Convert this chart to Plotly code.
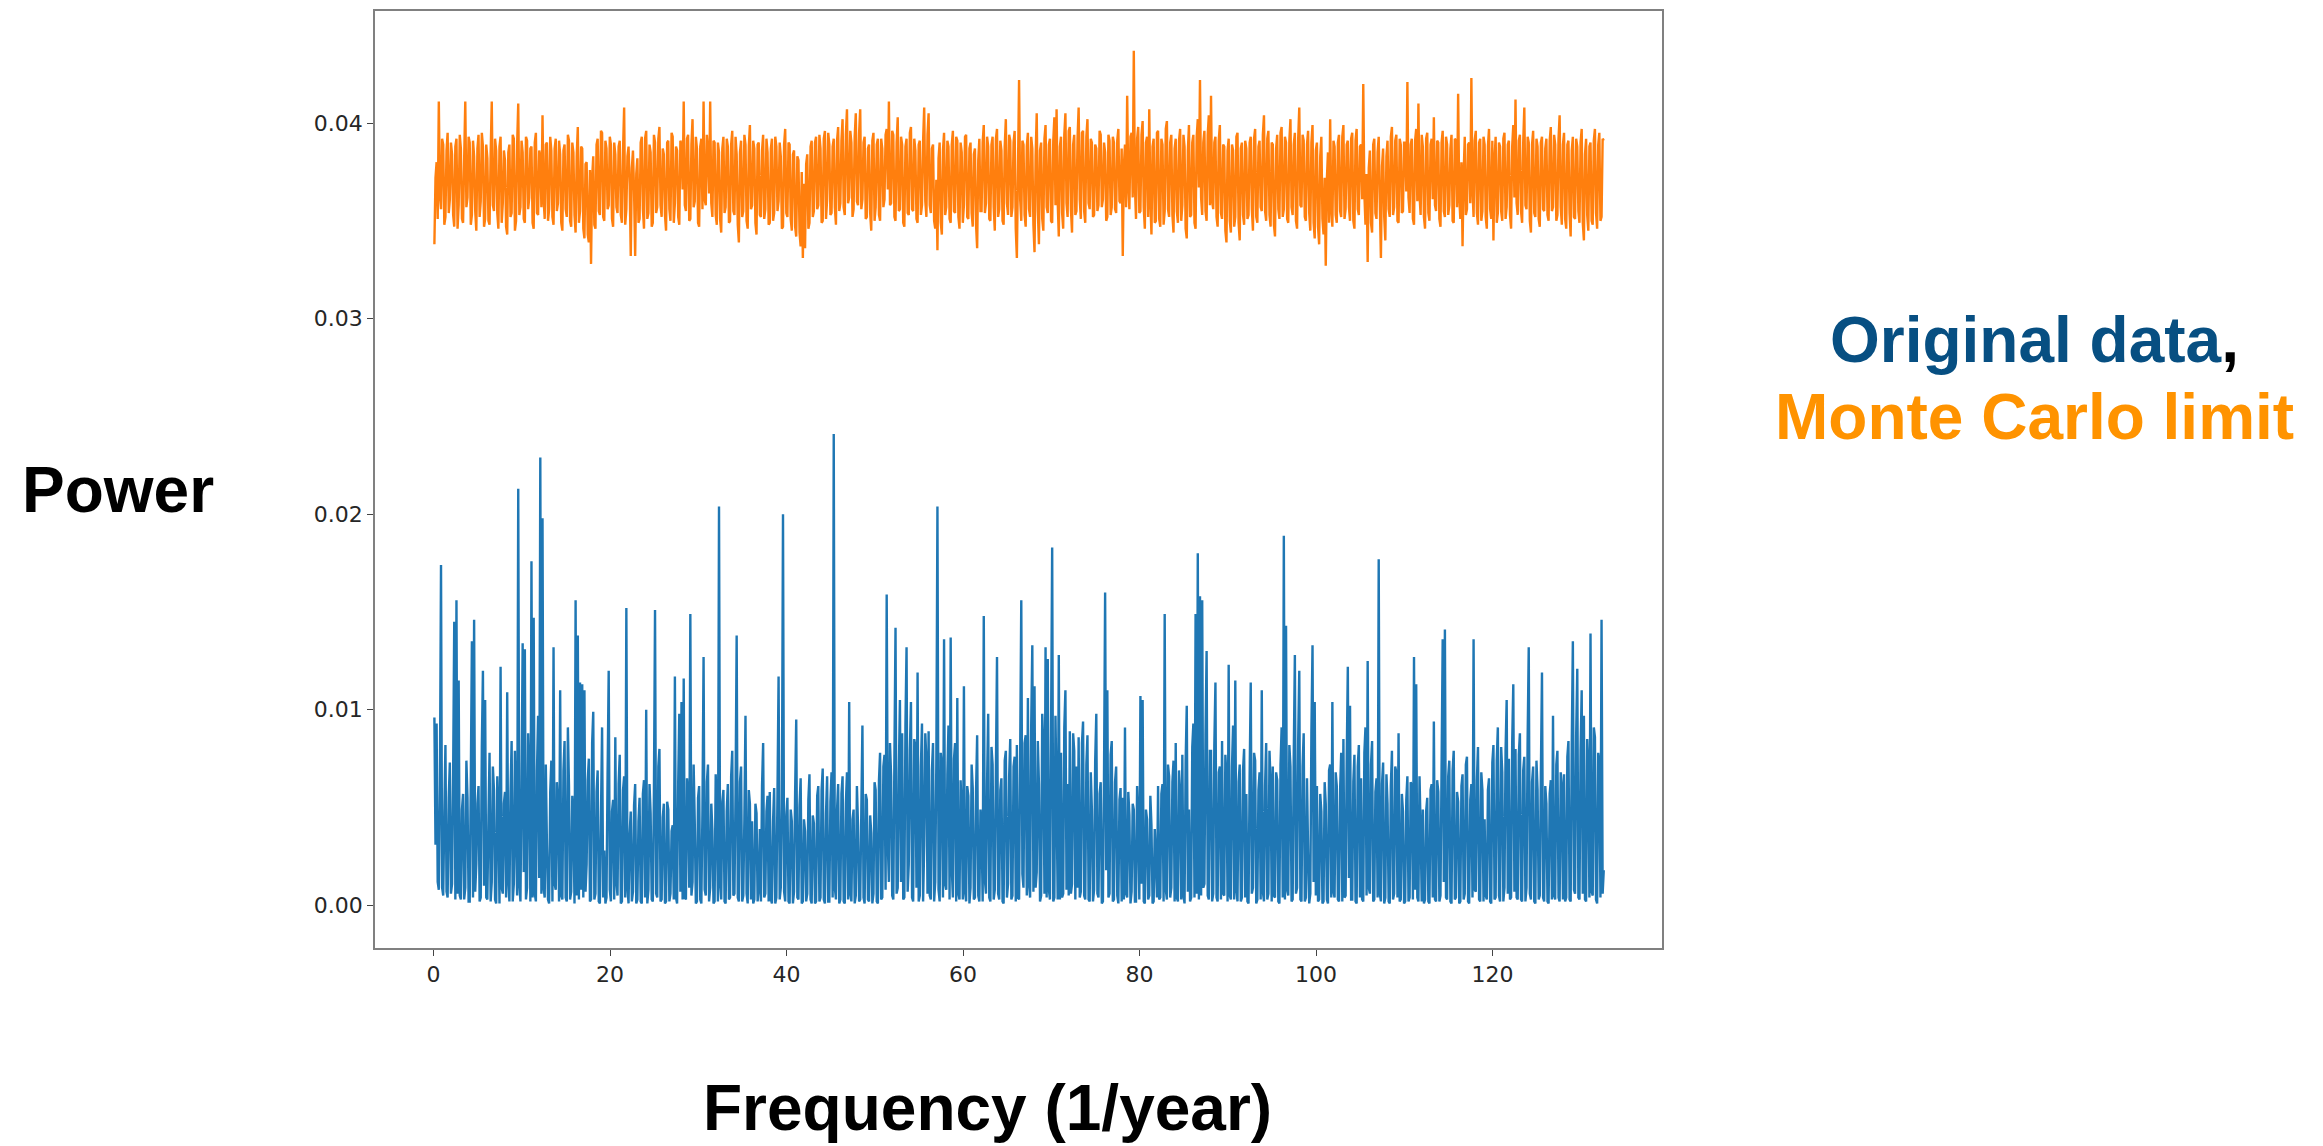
import plotly.graph_objects as go

# ---------------- data ----------------
# The spectrum is read in two interleaved passes: pass "a" at
# freq_start + k*freq_step, pass "b" half a step later.
freq_start = 0.1      # first frequency (1/year)
freq_step = 0.25      # spacing within one pass

original_power_a = [
    0.0096, 0.0093, 0.0008, 0.0174, 0.0005, 0.0082, 0.0004, 0.0073,
    0.0011, 0.0145, 0.0156, 0.0115, 0.0003, 0.0057, 0.0009, 0.0055,
    0.0002, 0.0135, 0.0146, 0.0021, 0.0061, 0.0004, 0.0120, 0.0105,
    0.0003, 0.0078, 0.0012, 0.0059, 0.0001, 0.0047, 0.0122, 0.0006,
    0.0058, 0.0109, 0.0002, 0.0084, 0.0011, 0.0038, 0.0213, 0.0002,
    0.0134, 0.0131, 0.0009, 0.0066, 0.0176, 0.0147, 0.0002, 0.0097,
    0.0229, 0.0198, 0.0004, 0.0031, 0.0001, 0.0074, 0.0132, 0.0008,
    0.0052, 0.0110, 0.0003, 0.0084, 0.0002, 0.0061, 0.0007, 0.0045,
    0.0156, 0.0138, 0.0114, 0.0113, 0.0110, 0.0021, 0.0075, 0.0003,
    0.0099, 0.0006, 0.0069, 0.0001, 0.0091, 0.0028, 0.0004, 0.0120,
    0.0002, 0.0054, 0.0086, 0.0005, 0.0077, 0.0002, 0.0066, 0.0152,
    0.0001, 0.0048, 0.0007, 0.0062, 0.0003, 0.0055, 0.0001, 0.0064,
    0.0100, 0.0008, 0.0047, 0.0002, 0.0151, 0.0004, 0.0080, 0.0003,
    0.0052, 0.0002, 0.0049, 0.0006, 0.0041, 0.0117, 0.0001, 0.0098,
    0.0104, 0.0116, 0.0003, 0.0056, 0.0149, 0.0012, 0.0043, 0.0002,
    0.0061, 0.0001, 0.0127, 0.0005, 0.0072, 0.0009, 0.0038, 0.0002,
    0.0046, 0.0204, 0.0003, 0.0059, 0.0001, 0.0062, 0.0004, 0.0079,
    0.0006, 0.0138, 0.0002, 0.0071, 0.0005, 0.0097, 0.0001, 0.0052,
    0.0043, 0.0003, 0.0047, 0.0008, 0.0002, 0.0083, 0.0006, 0.0056,
    0.0058, 0.0001, 0.0060, 0.0004, 0.0117, 0.0009, 0.0200, 0.0002,
    0.0055, 0.0001, 0.0043, 0.0007, 0.0095, 0.0003, 0.0065, 0.0002,
    0.0038, 0.0006, 0.0067, 0.0001, 0.0042, 0.0002, 0.0061, 0.0004,
    0.0070, 0.0001, 0.0066, 0.0002, 0.0068, 0.0241, 0.0003, 0.0062,
    0.0003, 0.0066, 0.0001, 0.0068, 0.0104, 0.0002, 0.0049, 0.0005,
    0.0041, 0.0003, 0.0092, 0.0001, 0.0054, 0.0002, 0.0037, 0.0006,
    0.0059, 0.0001, 0.0078, 0.0004, 0.0077, 0.0159, 0.0012, 0.0066,
    0.0003, 0.0142, 0.0009, 0.0105, 0.0088, 0.0004, 0.0132, 0.0021,
    0.0104, 0.0002, 0.0081, 0.0119, 0.0005, 0.0093, 0.0031, 0.0074,
    0.0089, 0.0003, 0.0083, 0.0012, 0.0204, 0.0002, 0.0071, 0.0136,
    0.0008, 0.0092, 0.0137, 0.0004, 0.0083, 0.0106, 0.0003, 0.0048,
    0.0112, 0.0002, 0.0056, 0.0009, 0.0060, 0.0004, 0.0087, 0.0002,
    0.0039, 0.0148, 0.0006, 0.0098, 0.0002, 0.0072, 0.0008, 0.0127,
    0.0003, 0.0065, 0.0001, 0.0079, 0.0011, 0.0085, 0.0005, 0.0076,
    0.0082, 0.0003, 0.0156, 0.0009, 0.0087, 0.0106, 0.0004, 0.0133,
    0.0112, 0.0017, 0.0062, 0.0005, 0.0081, 0.0132, 0.0126, 0.0003,
    0.0183, 0.0004, 0.0054, 0.0128, 0.0078, 0.0006, 0.0110, 0.0062,
    0.0089, 0.0011, 0.0079, 0.0071, 0.0086, 0.0007, 0.0094, 0.0003,
    0.0087, 0.0002, 0.0049, 0.0008, 0.0098, 0.0004, 0.0063, 0.0002,
    0.0160, 0.0110, 0.0006, 0.0084, 0.0003, 0.0071, 0.0001, 0.0060,
    0.0055, 0.0091, 0.0004, 0.0046, 0.0007, 0.0049, 0.0002, 0.0043,
    0.0107, 0.0105, 0.0001, 0.0044, 0.0005, 0.0041, 0.0002, 0.0024,
    0.0061, 0.0004, 0.0062, 0.0149, 0.0003, 0.0066, 0.0009, 0.0074,
    0.0083, 0.0002, 0.0057, 0.0077, 0.0001, 0.0102, 0.0049, 0.0004,
    0.0093, 0.0149, 0.0180, 0.0158, 0.0156, 0.0011, 0.0130, 0.0003,
    0.0079, 0.0006, 0.0114, 0.0002, 0.0071, 0.0084, 0.0005, 0.0066,
    0.0123, 0.0003, 0.0092, 0.0115, 0.0002, 0.0072, 0.0004, 0.0080,
    0.0057, 0.0001, 0.0114, 0.0009, 0.0074, 0.0003, 0.0068, 0.0110,
    0.0002, 0.0083, 0.0006, 0.0063, 0.0071, 0.0004, 0.0064, 0.0001,
    0.0091, 0.0189, 0.0143, 0.0005, 0.0071, 0.0003, 0.0128, 0.0009,
    0.0120, 0.0002, 0.0088, 0.0004, 0.0027, 0.0006, 0.0133, 0.0104,
    0.0061, 0.0003, 0.0048, 0.0002, 0.0052, 0.0001, 0.0072, 0.0104,
    0.0004, 0.0061, 0.0002, 0.0078, 0.0085, 0.0005, 0.0122, 0.0102,
    0.0003, 0.0077, 0.0001, 0.0082, 0.0065, 0.0002, 0.0091, 0.0125,
    0.0006, 0.0084, 0.0003, 0.0065, 0.0177, 0.0002, 0.0073, 0.0004,
    0.0052, 0.0001, 0.0079, 0.0006, 0.0068, 0.0088, 0.0003, 0.0048,
    0.0002, 0.0066, 0.0004, 0.0061, 0.0127, 0.0113, 0.0002, 0.0039,
    0.0049, 0.0003, 0.0055, 0.0001, 0.0062, 0.0094, 0.0002, 0.0058,
    0.0005, 0.0136, 0.0141, 0.0003, 0.0074, 0.0001, 0.0079, 0.0004,
    0.0053, 0.0002, 0.0067, 0.0006, 0.0076, 0.0001, 0.0062, 0.0136,
    0.0007, 0.0081, 0.0002, 0.0059, 0.0044, 0.0003, 0.0065, 0.0001,
    0.0082, 0.0004, 0.0091, 0.0002, 0.0068, 0.0009, 0.0105, 0.0075,
    0.0004, 0.0113, 0.0080, 0.0003, 0.0088, 0.0002, 0.0076, 0.0009,
    0.0132, 0.0003, 0.0071, 0.0001, 0.0059, 0.0005, 0.0119, 0.0002,
    0.0052, 0.0001, 0.0064, 0.0097, 0.0003, 0.0079, 0.0002, 0.0061,
    0.0067, 0.0004, 0.0084, 0.0002, 0.0135, 0.0006, 0.0121, 0.0003,
    0.0110, 0.0097, 0.0002, 0.0069, 0.0139, 0.0005, 0.0086, 0.0001,
    0.0073, 0.0146, 0.0018,
]

original_power_b = [
    0.0031, 0.0012, 0.0062, 0.0009, 0.0047, 0.0007, 0.0055, 0.0006,
    0.0068, 0.0003, 0.0006, 0.0005, 0.0049, 0.0003, 0.0074, 0.0002,
    0.0063, 0.0004, 0.0007, 0.0052, 0.0002, 0.0081, 0.0010, 0.0004,
    0.0044, 0.0002, 0.0071, 0.0003, 0.0066, 0.0001, 0.0009, 0.0052,
    0.0004, 0.0013, 0.0057, 0.0002, 0.0079, 0.0005, 0.0011, 0.0062,
    0.0017, 0.0003, 0.0088, 0.0002, 0.0004, 0.0006, 0.0069, 0.0014,
    0.0006, 0.0009, 0.0072, 0.0003, 0.0058, 0.0002, 0.0011, 0.0063,
    0.0002, 0.0005, 0.0069, 0.0004, 0.0091, 0.0003, 0.0056, 0.0001,
    0.0005, 0.0003, 0.0008, 0.0004, 0.0007, 0.0064, 0.0002, 0.0083,
    0.0003, 0.0058, 0.0002, 0.0046, 0.0004, 0.0001, 0.0067, 0.0008,
    0.0048, 0.0003, 0.0012, 0.0062, 0.0001, 0.0059, 0.0004, 0.0009,
    0.0037, 0.0002, 0.0051, 0.0001, 0.0043, 0.0002, 0.0057, 0.0004,
    0.0001, 0.0062, 0.0003, 0.0058, 0.0006, 0.0071, 0.0002, 0.0045,
    0.0001, 0.0053, 0.0002, 0.0038, 0.0003, 0.0004, 0.0062, 0.0007,
    0.0003, 0.0004, 0.0065, 0.0009, 0.0005, 0.0072, 0.0001, 0.0055,
    0.0003, 0.0049, 0.0008, 0.0063, 0.0002, 0.0052, 0.0001, 0.0067,
    0.0002, 0.0011, 0.0053, 0.0002, 0.0048, 0.0003, 0.0066, 0.0005,
    0.0058, 0.0004, 0.0063, 0.0002, 0.0044, 0.0006, 0.0059, 0.0003,
    0.0001, 0.0052, 0.0002, 0.0039, 0.0061, 0.0004, 0.0048, 0.0002,
    0.0003, 0.0043, 0.0001, 0.0057, 0.0003, 0.0051, 0.0007, 0.0046,
    0.0002, 0.0049, 0.0001, 0.0058, 0.0004, 0.0051, 0.0001, 0.0044,
    0.0002, 0.0054, 0.0003, 0.0046, 0.0001, 0.0056, 0.0002, 0.0059,
    0.0003, 0.0047, 0.0002, 0.0053, 0.0004, 0.0009, 0.0049, 0.0001,
    0.0057, 0.0002, 0.0052, 0.0003, 0.0006, 0.0044, 0.0001, 0.0061,
    0.0002, 0.0048, 0.0004, 0.0057, 0.0003, 0.0046, 0.0001, 0.0063,
    0.0002, 0.0064, 0.0003, 0.0071, 0.0008, 0.0031, 0.0083, 0.0005,
    0.0076, 0.0006, 0.0068, 0.0012, 0.0003, 0.0092, 0.0007, 0.0079,
    0.0004, 0.0085, 0.0009, 0.0002, 0.0071, 0.0002, 0.0088, 0.0006,
    0.0005, 0.0069, 0.0002, 0.0073, 0.0008, 0.0078, 0.0004, 0.0011,
    0.0067, 0.0003, 0.0019, 0.0075, 0.0002, 0.0006, 0.0064, 0.0003,
    0.0007, 0.0061, 0.0001, 0.0072, 0.0003, 0.0058, 0.0005, 0.0049,
    0.0002, 0.0013, 0.0063, 0.0004, 0.0081, 0.0003, 0.0069, 0.0006,
    0.0059, 0.0002, 0.0074, 0.0004, 0.0066, 0.0003, 0.0071, 0.0002,
    0.0004, 0.0078, 0.0016, 0.0083, 0.0005, 0.0011, 0.0092, 0.0007,
    0.0009, 0.0084, 0.0002, 0.0098, 0.0006, 0.0004, 0.0008, 0.0089,
    0.0002, 0.0097, 0.0003, 0.0003, 0.0004, 0.0091, 0.0008, 0.0005,
    0.0006, 0.0088, 0.0003, 0.0009, 0.0004, 0.0083, 0.0005, 0.0072,
    0.0003, 0.0068, 0.0002, 0.0074, 0.0006, 0.0057, 0.0001, 0.0066,
    0.0018, 0.0004, 0.0077, 0.0002, 0.0063, 0.0005, 0.0054, 0.0002,
    0.0003, 0.0006, 0.0058, 0.0001, 0.0052, 0.0002, 0.0061, 0.0003,
    0.0011, 0.0002, 0.0049, 0.0003, 0.0056, 0.0001, 0.0039, 0.0004,
    0.0003, 0.0057, 0.0002, 0.0008, 0.0072, 0.0004, 0.0063, 0.0002,
    0.0004, 0.0069, 0.0003, 0.0005, 0.0074, 0.0007, 0.0002, 0.0081,
    0.0004, 0.0006, 0.0003, 0.0005, 0.0009, 0.0087, 0.0005, 0.0079,
    0.0002, 0.0082, 0.0004, 0.0068, 0.0003, 0.0006, 0.0077, 0.0002,
    0.0005, 0.0071, 0.0003, 0.0008, 0.0063, 0.0002, 0.0069, 0.0004,
    0.0002, 0.0066, 0.0006, 0.0078, 0.0001, 0.0059, 0.0003, 0.0007,
    0.0061, 0.0003, 0.0079, 0.0002, 0.0005, 0.0068, 0.0002, 0.0072,
    0.0004, 0.0003, 0.0008, 0.0082, 0.0002, 0.0077, 0.0006, 0.0084,
    0.0003, 0.0071, 0.0002, 0.0065, 0.0001, 0.0089, 0.0012, 0.0005,
    0.0002, 0.0057, 0.0001, 0.0063, 0.0003, 0.0069, 0.0004, 0.0007,
    0.0068, 0.0003, 0.0059, 0.0002, 0.0004, 0.0074, 0.0014, 0.0003,
    0.0063, 0.0002, 0.0071, 0.0004, 0.0003, 0.0078, 0.0005, 0.0009,
    0.0072, 0.0002, 0.0058, 0.0004, 0.0006, 0.0062, 0.0001, 0.0067,
    0.0002, 0.0061, 0.0003, 0.0071, 0.0004, 0.0002, 0.0057, 0.0001,
    0.0054, 0.0002, 0.0063, 0.0003, 0.0008, 0.0004, 0.0066, 0.0002,
    0.0001, 0.0048, 0.0002, 0.0059, 0.0004, 0.0003, 0.0064, 0.0002,
    0.0071, 0.0012, 0.0004, 0.0066, 0.0002, 0.0069, 0.0003, 0.0058,
    0.0001, 0.0061, 0.0003, 0.0072, 0.0002, 0.0054, 0.0004, 0.0008,
    0.0064, 0.0003, 0.0068, 0.0002, 0.0005, 0.0059, 0.0002, 0.0073,
    0.0003, 0.0074, 0.0005, 0.0081, 0.0002, 0.0079, 0.0006, 0.0003,
    0.0083, 0.0007, 0.0004, 0.0077, 0.0003, 0.0069, 0.0002, 0.0085,
    0.0006, 0.0063, 0.0002, 0.0074, 0.0003, 0.0067, 0.0004, 0.0061,
    0.0002, 0.0057, 0.0003, 0.0005, 0.0072, 0.0004, 0.0068, 0.0003,
    0.0002, 0.0076, 0.0003, 0.0082, 0.0008, 0.0087, 0.0004, 0.0079,
    0.0006, 0.0003, 0.0085, 0.0004, 0.0007, 0.0091, 0.0003, 0.0078,
    0.0004, 0.0006,
]

monte_carlo_limit_a = [
    0.0338, 0.0380, 0.0411, 0.0356, 0.0389, 0.0352, 0.0395, 0.0361,
    0.0384, 0.0347, 0.0392, 0.0358, 0.0387, 0.0349, 0.0411, 0.0362,
    0.0390, 0.0353, 0.0383, 0.0345, 0.0394, 0.0360, 0.0388, 0.0351,
    0.0382, 0.0348, 0.0411, 0.0355, 0.0386, 0.0346, 0.0393, 0.0359,
    0.0381, 0.0343, 0.0389, 0.0354, 0.0392, 0.0350, 0.0410, 0.0357,
    0.0385, 0.0349, 0.0391, 0.0362, 0.0388, 0.0346, 0.0395, 0.0353,
    0.0383, 0.0404, 0.0351, 0.0390, 0.0356, 0.0386, 0.0348, 0.0392,
    0.0359, 0.0384, 0.0345, 0.0389, 0.0352, 0.0391, 0.0347, 0.0385,
    0.0344, 0.0398, 0.0355, 0.0387, 0.0341, 0.0380, 0.0339, 0.0328,
    0.0383, 0.0346, 0.0392, 0.0353, 0.0395, 0.0350, 0.0387, 0.0358,
    0.0389, 0.0347, 0.0384, 0.0354, 0.0391, 0.0349, 0.0408, 0.0356,
    0.0388, 0.0332, 0.0386, 0.0332, 0.0382, 0.0351, 0.0393, 0.0346,
    0.0396, 0.0354, 0.0385, 0.0349, 0.0390, 0.0357, 0.0398, 0.0352,
    0.0384, 0.0345, 0.0391, 0.0350, 0.0393, 0.0359, 0.0386, 0.0348,
    0.0389, 0.0411, 0.0355, 0.0394, 0.0351, 0.0402, 0.0360, 0.0387,
    0.0347, 0.0392, 0.0411, 0.0358, 0.0386, 0.0411, 0.0352, 0.0390,
    0.0348, 0.0385, 0.0344, 0.0393, 0.0357, 0.0388, 0.0350, 0.0396,
    0.0353, 0.0384, 0.0339, 0.0391, 0.0355, 0.0389, 0.0346, 0.0399,
    0.0358, 0.0387, 0.0343, 0.0390, 0.0352, 0.0394, 0.0356, 0.0385,
    0.0349, 0.0392, 0.0354, 0.0388, 0.0360, 0.0383, 0.0347, 0.0397,
    0.0352, 0.0389, 0.0345, 0.0386, 0.0342, 0.0381, 0.0337, 0.0331,
    0.0336, 0.0384, 0.0349, 0.0391, 0.0355, 0.0393, 0.0358, 0.0387,
    0.0350, 0.0396, 0.0361, 0.0389, 0.0354, 0.0392, 0.0348, 0.0398,
    0.0359, 0.0402, 0.0353, 0.0407, 0.0362, 0.0390, 0.0356, 0.0405,
    0.0358, 0.0407, 0.0361, 0.0393, 0.0352, 0.0389, 0.0345, 0.0395,
    0.0357, 0.0392, 0.0350, 0.0387, 0.0361, 0.0397, 0.0411, 0.0359,
    0.0394, 0.0350, 0.0403, 0.0356, 0.0389, 0.0347, 0.0392, 0.0353,
    0.0398, 0.0355, 0.0386, 0.0349, 0.0391, 0.0358, 0.0408, 0.0352,
    0.0405, 0.0354, 0.0389, 0.0346, 0.0335, 0.0390, 0.0343, 0.0395,
    0.0357, 0.0388, 0.0349, 0.0396, 0.0354, 0.0391, 0.0346, 0.0385,
    0.0358, 0.0394, 0.0351, 0.0390, 0.0347, 0.0387, 0.0336, 0.0392,
    0.0355, 0.0399, 0.0359, 0.0388, 0.0350, 0.0393, 0.0345, 0.0397,
    0.0356, 0.0386, 0.0348, 0.0402, 0.0353, 0.0391, 0.0357, 0.0396,
    0.0331, 0.0422, 0.0350, 0.0389, 0.0347, 0.0395, 0.0352, 0.0387,
    0.0334, 0.0405, 0.0338, 0.0390, 0.0345, 0.0399, 0.0354, 0.0392,
    0.0349, 0.0403, 0.0407, 0.0342, 0.0393, 0.0346, 0.0405, 0.0352,
    0.0398, 0.0344, 0.0394, 0.0355, 0.0408, 0.0351, 0.0396, 0.0349,
    0.0402, 0.0356, 0.0390, 0.0353, 0.0387, 0.0358, 0.0394, 0.0361,
    0.0385, 0.0352, 0.0391, 0.0357, 0.0390, 0.0354, 0.0397, 0.0359,
    0.0332, 0.0389, 0.0414, 0.0356, 0.0395, 0.0437, 0.0351, 0.0398,
    0.0355, 0.0401, 0.0346, 0.0393, 0.0407, 0.0343, 0.0392, 0.0350,
    0.0396, 0.0347, 0.0389, 0.0355, 0.0401, 0.0352, 0.0394, 0.0344,
    0.0392, 0.0349, 0.0397, 0.0358, 0.0388, 0.0341, 0.0399, 0.0353,
    0.0394, 0.0346, 0.0402, 0.0422, 0.0353, 0.0396, 0.0350, 0.0404,
    0.0414, 0.0356, 0.0393, 0.0347, 0.0399, 0.0351, 0.0388, 0.0339,
    0.0392, 0.0344, 0.0386, 0.0352, 0.0395, 0.0340, 0.0390, 0.0348,
    0.0387, 0.0353, 0.0393, 0.0345, 0.0397, 0.0349, 0.0391, 0.0355,
    0.0404, 0.0350, 0.0396, 0.0347, 0.0389, 0.0342, 0.0394, 0.0351,
    0.0398, 0.0356, 0.0390, 0.0349, 0.0402, 0.0353, 0.0395, 0.0346,
    0.0408, 0.0357, 0.0391, 0.0350, 0.0396, 0.0345, 0.0399, 0.0341,
    0.0390, 0.0338, 0.0393, 0.0343, 0.0327, 0.0385, 0.0402, 0.0347,
    0.0388, 0.0349, 0.0394, 0.0352, 0.0399, 0.0356, 0.0391, 0.0350,
    0.0395, 0.0346, 0.0397, 0.0353, 0.0389, 0.0420, 0.0348, 0.0329,
    0.0386, 0.0344, 0.0392, 0.0351, 0.0393, 0.0331, 0.0387, 0.0340,
    0.0391, 0.0352, 0.0398, 0.0357, 0.0394, 0.0349, 0.0389, 0.0355,
    0.0390, 0.0421, 0.0354, 0.0392, 0.0348, 0.0397, 0.0410, 0.0353,
    0.0388, 0.0346, 0.0395, 0.0350, 0.0392, 0.0403, 0.0355, 0.0390,
    0.0347, 0.0396, 0.0352, 0.0389, 0.0358, 0.0394, 0.0349, 0.0391,
    0.0415, 0.0351, 0.0337, 0.0393, 0.0356, 0.0390, 0.0423, 0.0352,
    0.0396, 0.0348, 0.0392, 0.0355, 0.0389, 0.0346, 0.0397, 0.0351,
    0.0340, 0.0393, 0.0354, 0.0388, 0.0350, 0.0395, 0.0357, 0.0391,
    0.0346, 0.0399, 0.0412, 0.0353, 0.0394, 0.0349, 0.0408, 0.0356,
    0.0390, 0.0344, 0.0396, 0.0352, 0.0388, 0.0347, 0.0393, 0.0355,
    0.0392, 0.0350, 0.0398, 0.0357, 0.0389, 0.0353, 0.0404, 0.0348,
    0.0395, 0.0346, 0.0391, 0.0342, 0.0393, 0.0351, 0.0388, 0.0349,
    0.0397, 0.0340, 0.0392, 0.0345, 0.0390, 0.0348, 0.0397, 0.0346,
    0.0395, 0.0352, 0.0391,
]

monte_carlo_limit_b = [
    0.0372, 0.0351, 0.0363, 0.0392, 0.0348, 0.0386, 0.0354, 0.0390,
    0.0353, 0.0388, 0.0346, 0.0394, 0.0351, 0.0382, 0.0357, 0.0393,
    0.0348, 0.0391, 0.0355, 0.0387, 0.0352, 0.0395, 0.0347, 0.0389,
    0.0350, 0.0384, 0.0358, 0.0392, 0.0354, 0.0388, 0.0349, 0.0386,
    0.0347, 0.0385, 0.0352, 0.0394, 0.0345, 0.0389, 0.0353, 0.0391,
    0.0351, 0.0393, 0.0356, 0.0387, 0.0349, 0.0390, 0.0354, 0.0386,
    0.0357, 0.0361, 0.0389, 0.0350, 0.0393, 0.0352, 0.0387, 0.0355,
    0.0391, 0.0349, 0.0386, 0.0356, 0.0394, 0.0350, 0.0390, 0.0353,
    0.0383, 0.0349, 0.0388, 0.0346, 0.0379, 0.0343, 0.0376, 0.0372,
    0.0348, 0.0389, 0.0355, 0.0396, 0.0352, 0.0391, 0.0356, 0.0393,
    0.0351, 0.0390, 0.0357, 0.0388, 0.0353, 0.0386, 0.0348, 0.0383,
    0.0369, 0.0377, 0.0365, 0.0374, 0.0349, 0.0390, 0.0356, 0.0392,
    0.0351, 0.0389, 0.0347, 0.0394, 0.0354, 0.0392, 0.0358, 0.0387,
    0.0353, 0.0390, 0.0356, 0.0395, 0.0349, 0.0388, 0.0352, 0.0391,
    0.0366, 0.0358, 0.0392, 0.0350, 0.0389, 0.0357, 0.0393, 0.0349,
    0.0388, 0.0356, 0.0361, 0.0394, 0.0364, 0.0359, 0.0391, 0.0353,
    0.0390, 0.0351, 0.0387, 0.0354, 0.0392, 0.0349, 0.0389, 0.0355,
    0.0393, 0.0348, 0.0385, 0.0352, 0.0394, 0.0350, 0.0388, 0.0356,
    0.0391, 0.0349, 0.0389, 0.0353, 0.0386, 0.0351, 0.0392, 0.0348,
    0.0387, 0.0350, 0.0393, 0.0355, 0.0390, 0.0346, 0.0389, 0.0354,
    0.0390, 0.0351, 0.0384, 0.0347, 0.0383, 0.0344, 0.0375, 0.0369,
    0.0379, 0.0346, 0.0388, 0.0352, 0.0390, 0.0356, 0.0394, 0.0349,
    0.0392, 0.0351, 0.0395, 0.0353, 0.0388, 0.0357, 0.0391, 0.0355,
    0.0391, 0.0357, 0.0394, 0.0359, 0.0396, 0.0352, 0.0393, 0.0360,
    0.0395, 0.0356, 0.0390, 0.0351, 0.0387, 0.0354, 0.0391, 0.0350,
    0.0389, 0.0353, 0.0392, 0.0357, 0.0394, 0.0366, 0.0358, 0.0396,
    0.0352, 0.0390, 0.0355, 0.0393, 0.0349, 0.0388, 0.0354, 0.0395,
    0.0356, 0.0392, 0.0351, 0.0389, 0.0353, 0.0391, 0.0360, 0.0394,
    0.0358, 0.0387, 0.0350, 0.0371, 0.0382, 0.0349, 0.0386, 0.0353,
    0.0391, 0.0351, 0.0389, 0.0355, 0.0393, 0.0352, 0.0390, 0.0349,
    0.0393, 0.0352, 0.0387, 0.0354, 0.0384, 0.0348, 0.0381, 0.0355,
    0.0390, 0.0354, 0.0393, 0.0351, 0.0389, 0.0357, 0.0392, 0.0352,
    0.0391, 0.0350, 0.0388, 0.0359, 0.0394, 0.0352, 0.0390, 0.0346,
    0.0376, 0.0361, 0.0391, 0.0353, 0.0388, 0.0356, 0.0393, 0.0348,
    0.0383, 0.0355, 0.0386, 0.0351, 0.0392, 0.0357, 0.0389, 0.0350,
    0.0391, 0.0358, 0.0360, 0.0388, 0.0354, 0.0394, 0.0359, 0.0396,
    0.0356, 0.0389, 0.0353, 0.0392, 0.0361, 0.0395, 0.0355, 0.0393,
    0.0359, 0.0392, 0.0352, 0.0389, 0.0355, 0.0396, 0.0357, 0.0390,
    0.0350, 0.0394, 0.0353, 0.0393, 0.0356, 0.0391, 0.0360, 0.0387,
    0.0378, 0.0357, 0.0368, 0.0393, 0.0362, 0.0368, 0.0392, 0.0354,
    0.0394, 0.0357, 0.0390, 0.0352, 0.0361, 0.0388, 0.0349, 0.0395,
    0.0351, 0.0392, 0.0348, 0.0397, 0.0356, 0.0390, 0.0353, 0.0387,
    0.0355, 0.0391, 0.0350, 0.0394, 0.0346, 0.0386, 0.0352, 0.0390,
    0.0349, 0.0393, 0.0367, 0.0362, 0.0390, 0.0355, 0.0394, 0.0358,
    0.0360, 0.0390, 0.0352, 0.0391, 0.0354, 0.0389, 0.0345, 0.0386,
    0.0350, 0.0389, 0.0347, 0.0393, 0.0349, 0.0387, 0.0353, 0.0391,
    0.0351, 0.0390, 0.0356, 0.0392, 0.0352, 0.0388, 0.0357, 0.0394,
    0.0355, 0.0392, 0.0353, 0.0390, 0.0348, 0.0387, 0.0356, 0.0395,
    0.0352, 0.0393, 0.0351, 0.0391, 0.0357, 0.0389, 0.0350, 0.0392,
    0.0358, 0.0394, 0.0352, 0.0389, 0.0354, 0.0390, 0.0349, 0.0386,
    0.0347, 0.0383, 0.0351, 0.0372, 0.0371, 0.0349, 0.0356, 0.0391,
    0.0353, 0.0390, 0.0355, 0.0393, 0.0351, 0.0389, 0.0357, 0.0392,
    0.0350, 0.0391, 0.0356, 0.0388, 0.0361, 0.0364, 0.0374, 0.0377,
    0.0349, 0.0389, 0.0354, 0.0385, 0.0359, 0.0378, 0.0352, 0.0383,
    0.0356, 0.0393, 0.0353, 0.0391, 0.0350, 0.0392, 0.0354, 0.0390,
    0.0365, 0.0362, 0.0389, 0.0351, 0.0391, 0.0360, 0.0363, 0.0394,
    0.0352, 0.0392, 0.0354, 0.0389, 0.0361, 0.0358, 0.0391, 0.0351,
    0.0390, 0.0355, 0.0393, 0.0353, 0.0387, 0.0350, 0.0392, 0.0357,
    0.0362, 0.0380, 0.0374, 0.0353, 0.0389, 0.0359, 0.0366, 0.0391,
    0.0354, 0.0390, 0.0350, 0.0393, 0.0352, 0.0388, 0.0356, 0.0391,
    0.0381, 0.0349, 0.0390, 0.0355, 0.0392, 0.0351, 0.0389, 0.0353,
    0.0388, 0.0362, 0.0359, 0.0391, 0.0355, 0.0390, 0.0358, 0.0393,
    0.0350, 0.0389, 0.0354, 0.0392, 0.0351, 0.0390, 0.0356, 0.0387,
    0.0353, 0.0391, 0.0355, 0.0394, 0.0350, 0.0392, 0.0357, 0.0389,
    0.0351, 0.0389, 0.0354, 0.0386, 0.0352, 0.0392, 0.0355, 0.0390,
    0.0349, 0.0384, 0.0353, 0.0388, 0.0350, 0.0391, 0.0354, 0.0389,
    0.0350, 0.0392,
]

x_tick_values = [0, 20, 40, 60, 80, 100, 120]
x_tick_labels = ["0", "20", "40", "60", "80", "100", "120"]
y_tick_values = [0.00, 0.01, 0.02, 0.03, 0.04]
y_tick_labels = ["0.00", "0.01", "0.02", "0.03", "0.04"]


def merge_passes(a_vals, b_vals):
    """Interleave the two reading passes into one frequency-ordered series."""
    xs, ys = [], []
    for i, v in enumerate(a_vals):
        xs.append(freq_start + freq_step * i)
        ys.append(v)
        if i < len(b_vals):
            xs.append(freq_start + freq_step * (i + 0.5))
            ys.append(b_vals[i])
    return xs, ys


freq_orig, original_power = merge_passes(original_power_a, original_power_b)
freq_mc, monte_carlo_limit = merge_passes(monte_carlo_limit_a, monte_carlo_limit_b)

# ---------------- layout geometry (pixels) ----------------
W, H = 2323, 1146
L, R, T, B = 375, 661, 9, 198
PW, PH = W - L - R, H - T - B


def px(xp):
    return (xp - L) / PW


def py(yp):
    return 1 - (yp - T) / PH


fig = go.Figure()
fig.add_trace(go.Scatter(
    x=freq_orig, y=original_power, mode="lines",
    line=dict(color="#1f77b4", width=2.4, simplify=False), name="Original data",
    showlegend=False))
fig.add_trace(go.Scatter(
    x=freq_mc, y=monte_carlo_limit, mode="lines",
    line=dict(color="#ff7f0e", width=2.4, simplify=False), name="Monte Carlo limit",
    showlegend=False))

axis_common = dict(
    showgrid=False, zeroline=False, showline=True, mirror=True,
    linecolor="#808080", linewidth=1.5,
    ticks="outside", ticklen=6, tickwidth=1.2, tickcolor="#444444",
    tickfont=dict(family="DejaVu Sans", size=22, color="#262626"),
)

fig.update_xaxes(range=[-6.63, 139.2], tickmode="array",
                 tickvals=x_tick_values, ticktext=x_tick_labels, **axis_common)
fig.update_yaxes(range=[-0.00218, 0.04573], tickmode="array",
                 tickvals=y_tick_values, ticktext=y_tick_labels, **axis_common)

title_font = dict(family="Liberation Sans, Arial, Helvetica", size=64, color="black")

annotations = [
    dict(text="<b>Power</b>", x=px(20), y=py(489), xanchor="left", yanchor="middle",
         font=title_font),
    dict(text="<b>Frequency (1/year)</b>", x=px(987), y=py(1108), xanchor="center",
         yanchor="middle", font=title_font),
    dict(text='<b><span style="color:#074f82">Original data</span>,</b>', x=px(2034), y=py(339),
         xanchor="center", yanchor="middle", font=title_font),
    dict(text="<b>Monte Carlo limit</b>", x=px(2034), y=py(416), xanchor="center",
         yanchor="middle", font=dict(family="Liberation Sans, Arial, Helvetica", size=64,
                                     color="#ff9300")),
]
for a in annotations:
    a.update(xref="paper", yref="paper", showarrow=False)

fig.update_layout(
    width=W, height=H,
    margin=dict(l=L, r=R, t=T, b=B, pad=0),
    paper_bgcolor="white", plot_bgcolor="white",
    annotations=annotations,
)

fig.write_html("out.html", config={"displayModeBar": False},
               post_script="document.body.style.margin='0';")
